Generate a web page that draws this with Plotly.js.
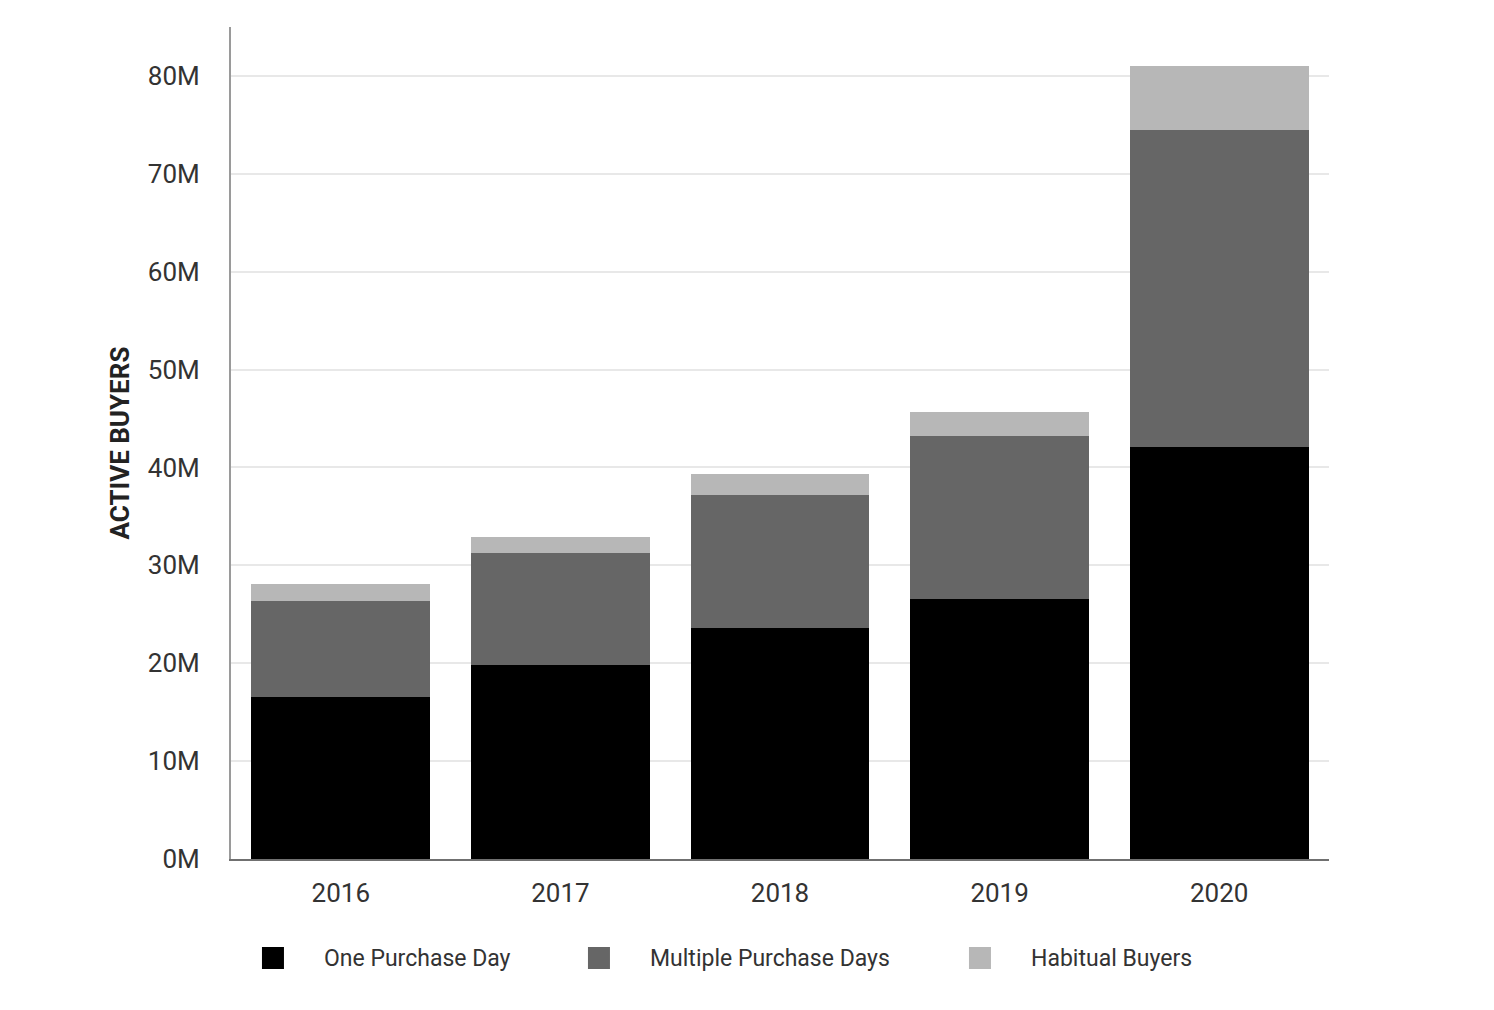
<!DOCTYPE html>
<html>
<head>
<meta charset="utf-8">
<script src="https://cdn.plot.ly/plotly-3.0.1.min.js"></script>
<style>html,body{margin:0;padding:0;background:#fff;}#chart{width:1494px;height:1010px;}</style>
</head>
<body>
<div id="chart"></div>
<script>
// Data (values in millions)
const years = ["2016", "2017", "2018", "2019", "2020"];
const seriesNames = ["One Purchase Day", "Multiple Purchase Days", "Habitual Buyers"];
const onePurchaseDay = [16.5, 19.8, 23.6, 26.6, 42.1];
const multiplePurchaseDays = [9.9, 11.5, 13.6, 16.6, 32.4];
const habitualBuyers = [1.7, 1.6, 2.1, 2.5, 6.5];
const yTickVals = [0, 10, 20, 30, 40, 50, 60, 70, 80];
const yTickText = ["0M", "10M", "20M", "30M", "40M", "50M", "60M", "70M", "80M"];

const colors = ["#000000", "#666666", "#b7b7b7"];
const values = [onePurchaseDay, multiplePurchaseDays, habitualBuyers];

const traces = values.map((v, i) => ({
  type: "bar",
  name: seriesNames[i],
  x: years,
  y: v,
  marker: { color: colors[i], line: { width: 0 } },
  showlegend: false,
  hovertemplate: "%{x}: %{y}M<extra>" + seriesNames[i] + "</extra>"
}));

// custom legend (large square swatches), positions in paper fractions
const plotW = 1098, plotH = 832;
const legendX = [0.0282, 0.3251, 0.6721];
const shapes = [];
const annotations = [];
seriesNames.forEach((n, i) => {
  const x0 = legendX[i];
  shapes.push({
    type: "rect", xref: "paper", yref: "paper",
    x0: x0, x1: x0 + 22 / plotW,
    y0: -(969 - 859) / plotH, y1: -(947 - 859) / plotH,
    fillcolor: colors[i], line: { width: 0 }
  });
  annotations.push({
    xref: "paper", yref: "paper",
    x: x0 + 60 / plotW, y: -(958 - 859) / plotH,
    xanchor: "left", yanchor: "middle",
    text: n, showarrow: false,
    font: { family: "Roboto, sans-serif", size: 23, color: "#333333" }
  });
});

const layout = {
  width: 1494, height: 1010,
  margin: { l: 231, r: 165, t: 27, b: 151 },
  paper_bgcolor: "#ffffff", plot_bgcolor: "#ffffff",
  barmode: "stack",
  bargap: 0.185,
  font: { family: "Roboto, sans-serif", color: "#333333" },
  xaxis: {
    type: "category",
    showline: true, linecolor: "#707070", linewidth: 2,
    showgrid: false, ticks: "",
    tickfont: { size: 26, color: "#333333" },
    ticklabelstandoff: 10
  },
  yaxis: {
    range: [0, 85],
    tickvals: yTickVals, ticktext: yTickText,
    showline: true, linecolor: "#9a9a9a", linewidth: 2,
    showgrid: true, gridcolor: "#e8e8e8", gridwidth: 2,
    zeroline: false, ticks: "",
    tickfont: { size: 26, color: "#333333" },
    ticklabelstandoff: 24,
    automargin: true,
    title: { text: "ACTIVE BUYERS", font: { size: 26, color: "#222222", weight: "bold" }, standoff: 11 }
  },
  shapes: shapes,
  annotations: annotations
};

Plotly.newPlot("chart", traces, layout, { displayModeBar: false, staticPlot: true });
</script>
</body>
</html>
